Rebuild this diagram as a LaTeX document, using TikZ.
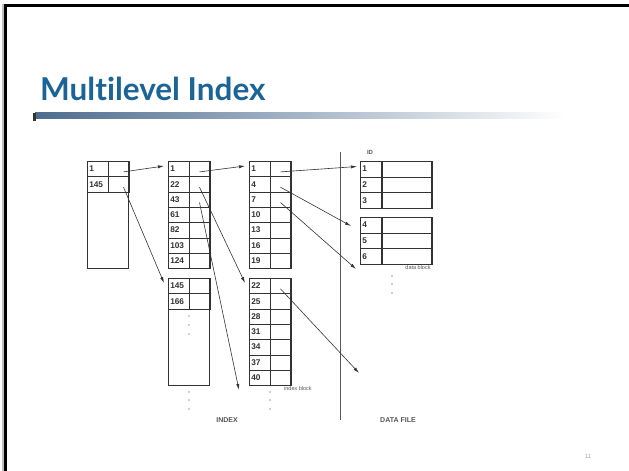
\documentclass[tikz,border=0pt]{standalone}
\usepackage{fontspec}
\setmainfont{Liberation Sans}
\newfontfamily\titlefont[Ligatures=NoCommon]{Lato}
\usetikzlibrary{arrows.meta, positioning, calc}
\definecolor{titleblue}{HTML}{1B6497}
\definecolor{barblue}{HTML}{4D6C8E}
\definecolor{inkgray}{HTML}{333333}
\definecolor{labelgray}{HTML}{555555}

\begin{document}
\begin{tikzpicture}[x=1pt, y=-1pt,
    every node/.style={font=\fontsize{8}{9}\selectfont, text=inkgray},
    block/.style={draw=inkgray, line width=1.2pt, inner sep=0pt, anchor=north west},
    keycell/.style={draw=inkgray, line width=0.5pt, inner xsep=2pt, inner ysep=0pt,
                    text width=16.5pt, minimum height=15.3pt, align=left, anchor=north west,
                    font=\fontsize{8.3}{9}\selectfont\bfseries},
    ptrcell/.style={draw=inkgray, line width=0.5pt, inner sep=0pt,
                    minimum width=20.5pt, minimum height=15.3pt, anchor=north west},
    datakey/.style={keycell, text width=17pt, minimum height=15.67pt},
    dataptr/.style={ptrcell, minimum width=50pt, minimum height=15.67pt},
    arr/.style={-{Latex[length=6pt,width=3.2pt]}, draw=inkgray, line width=0.6pt},
    smalllbl/.style={font=\fontsize{5.5}{6}\selectfont, text=labelgray, inner sep=0pt},
    caption/.style={font=\fontsize{7}{8}\selectfont\bfseries, text=labelgray, inner sep=0pt}
]
    \useasboundingbox (0,0) rectangle (629,471);

    % slide frame and title
    \fill[gray!50] (2,4) rectangle (4,471);
    \fill[black] (4,4) rectangle (7,471);
    \fill[black] (4,4) rectangle (629,6.6);
    \node[anchor=base west, inner sep=0pt, text=titleblue,
          font=\titlefont\bfseries\fontsize{31.5}{34}\selectfont] (title) at (40,100) {Multilevel Index};
    \shade[left color=barblue, right color=white] (35,112.5) rectangle (566,118.5);
    \fill[black!80] (33,113) rectangle (35.5,121);

    % index blocks
    \node[block, minimum width=41pt, minimum height=107pt] (root) at (87,161) {};
    \node[block, minimum width=41pt, minimum height=107pt] (l2a) at (168,161) {};
    \node[block, minimum width=41pt, minimum height=107pt] (l2b) at (168,278) {};
    \node[block, minimum width=41pt, minimum height=107pt] (l3a) at (249,161) {};
    \node[block, minimum width=41pt, minimum height=107pt] (l3b) at (249,278) {};

    \foreach \k [count=\i] in {1,145} {
        \node[keycell] (root-k\i) at ($(root.north west)+(0,{(\i-1)*15.3})$) {\k};
        \node[ptrcell] (root-p\i) at (root-k\i.north east) {};
    }
    \foreach \k [count=\i] in {1,22,43,61,82,103,124} {
        \node[keycell] (l2a-k\i) at ($(l2a.north west)+(0,{(\i-1)*15.3})$) {\k};
        \node[ptrcell] (l2a-p\i) at (l2a-k\i.north east) {};
    }
    \foreach \k [count=\i] in {145,166} {
        \node[keycell] (l2b-k\i) at ($(l2b.north west)+(0,{(\i-1)*15.3})$) {\k};
        \node[ptrcell] (l2b-p\i) at (l2b-k\i.north east) {};
    }
    \foreach \k [count=\i] in {1,4,7,10,13,16,19} {
        \node[keycell] (l3a-k\i) at ($(l3a.north west)+(0,{(\i-1)*15.3})$) {\k};
        \node[ptrcell] (l3a-p\i) at (l3a-k\i.north east) {};
    }
    \foreach \k [count=\i] in {22,25,28,31,34,37,40} {
        \node[keycell] (l3b-k\i) at ($(l3b.north west)+(0,{(\i-1)*15.3})$) {\k};
        \node[ptrcell] (l3b-p\i) at (l3b-k\i.north east) {};
    }

    % data blocks
    \node[block, minimum width=71pt, minimum height=47pt] (d1) at (360,161) {};
    \node[block, minimum width=71pt, minimum height=47pt] (d2) at (360,217) {};
    \foreach \k [count=\i] in {1,2,3} {
        \node[datakey] (d1-k\i) at ($(d1.north west)+(0,{(\i-1)*15.67})$) {\k};
        \node[dataptr] (d1-p\i) at (d1-k\i.north east) {};
    }
    \foreach \k [count=\i] in {4,5,6} {
        \node[datakey] (d2-k\i) at ($(d2.north west)+(0,{(\i-1)*15.67})$) {\k};
        \node[dataptr] (d2-p\i) at (d2-k\i.north east) {};
    }

    % continuation dots
    \foreach \y in {316,325,334} \fill[inkgray] (189,\y) circle (0.6pt);
    \foreach \y in {392,400,409} {
        \fill[inkgray] (189,\y) circle (0.6pt);
        \fill[inkgray] (270,\y) circle (0.6pt);
    }
    \foreach \y in {276,284,293} \fill[inkgray] (392,\y) circle (0.6pt);

    % separator between index and data file
    \coordinate (sep-top) at (340,152);
    \coordinate (sep-bot) at (340,420);
    \draw[draw=black!65, line width=0.8pt] (sep-top) -- (sep-bot);

    % free arrow ends
    \coordinate (l2more) at (239,390);
    \coordinate (d2in) at (351,226);
    \coordinate (d3in) at (356,269);
    \coordinate (d4in) at (359,373);

    % pointers
    \draw[arr] ([xshift=5pt,yshift=-3pt]root-p1.center) -- ([xshift=-4pt,yshift=-5pt]l2a.north west);
    \draw[arr] ([xshift=5pt,yshift=-3pt]root-p2.center) -- ([xshift=-4pt,yshift=-5pt]l2b.north west);
    \draw[arr] ([yshift=-3pt]l2a-p1.center) -- ([xshift=-4pt,yshift=-5pt]l3a.north west);
    \draw[arr] ([yshift=-3pt]l2a-p2.center) -- ([xshift=-4pt,yshift=-5pt]l3b.north west);
    \draw[arr] ([yshift=-3pt]l2a-p3.center) -- (l2more);
    \draw[arr] ([yshift=-3pt]l3a-p1.center) -- ([xshift=-3pt,yshift=-5.5pt]d1.north west);
    \draw[arr] ([yshift=-3pt]l3a-p2.center) -- (d2in);
    \draw[arr] ([yshift=-3pt]l3a-p3.center) -- (d3in);
    \draw[arr] ([yshift=-3pt]l3b-p1.center) -- (d4in);

    % labels
    \node[caption, font=\fontsize{6}{7}\selectfont\bfseries] (idlbl) at (370,152) {ID};
    \node[smalllbl] (dblk) at (418,268) {data block};
    \node[smalllbl, anchor=west] (iblk) at (284,389) {index block};
    \node[caption] (idx) at (227,420) {INDEX};
    \node[caption] (dfile) at (398,420) {DATA FILE};
    \node[smalllbl, text=gray!70, font=\fontsize{6}{7}\selectfont] (pgnum) at (588,456) {11};
\end{tikzpicture}
\end{document}
